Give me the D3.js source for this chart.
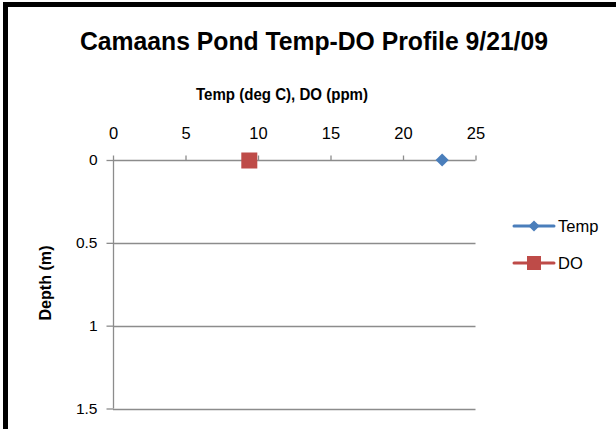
<!DOCTYPE html>
<html>
<head>
<meta charset="utf-8">
<style>
  body { margin: 0; background: #fff; }
  svg { display: block; }
</style>
</head>
<body>
<script src="https://cdn.jsdelivr.net/npm/d3@7"></script>
<script>
// data
var seriesNames = ["Temp", "DO"];
var depths = [0];
var tempValues = [22.7];
var doValues = [9.4];
var xTicks = [0, 5, 10, 15, 20, 25];
var yTicks = [0, 0.5, 1, 1.5];
var colors = ["#4a7ebb", "#be4b48"];

var W = 616, H = 429;
var font = "'Liberation Sans', Arial, sans-serif";

var svg = d3.select("body").append("svg").attr("width", W).attr("height", H);

// frame (only top/left visible)
svg.append("rect").attr("x", 0).attr("y", 0).attr("width", W).attr("height", H).attr("fill", "#fff");
svg.append("rect").attr("x", 3).attr("y", 2).attr("width", W - 3).attr("height", 5).attr("fill", "#000");
svg.append("rect").attr("x", 3).attr("y", 2).attr("width", 5).attr("height", H).attr("fill", "#000");

var x = d3.scaleLinear().domain([0, 25]).range([113, 475.5]);
var y = d3.scaleLinear().domain([0, 1.5]).range([160, 408.5]);

// horizontal gridlines
svg.append("g").selectAll("line").data(yTicks.slice(1)).enter().append("line")
  .attr("x1", x(0)).attr("x2", x(25))
  .attr("y1", function(d){ return Math.round(y(d)) + 0.5; })
  .attr("y2", function(d){ return Math.round(y(d)) + 0.5; })
  .attr("stroke", "#8c8c8c").attr("stroke-width", 1.3);

// top x axis
var xAxis = svg.append("g").attr("transform", "translate(0," + (Math.round(y(0)) + 0.5) + ")")
  .call(d3.axisTop(x).tickValues(xTicks).tickSize(5).tickPadding(17).tickFormat(d3.format("d")));
xAxis.select(".domain").attr("stroke", "#8c8c8c").attr("stroke-width", 1.3).attr("d", "M" + x(0) + ",0H" + x(25));
xAxis.selectAll(".tick line").attr("stroke", "#8c8c8c").attr("stroke-width", 1.3);
xAxis.selectAll("text").attr("font-family", font).attr("font-size", 16.5).attr("fill", "#000");

// left y axis
var yAxis = svg.append("g").attr("transform", "translate(" + (Math.round(x(0)) + 0.5) + ",0)")
  .call(d3.axisLeft(y).tickValues(yTicks).tickSize(7).tickPadding(9).tickFormat(function(d){ return String(d); }));
yAxis.select(".domain").attr("stroke", "#8c8c8c").attr("stroke-width", 1.3).attr("d", "M0," + y(0) + "V" + y(1.5));
yAxis.selectAll(".tick line").attr("stroke", "#8c8c8c").attr("stroke-width", 1.3);
yAxis.selectAll("text").attr("font-family", font).attr("font-size", 15.5).attr("fill", "#000");

// titles
svg.append("text").attr("x", 314).attr("y", 50).attr("text-anchor", "middle")
  .attr("font-family", font).attr("font-weight", "bold").attr("font-size", 26)
  .attr("textLength", 468).attr("lengthAdjust", "spacingAndGlyphs")
  .text("Camaans Pond Temp-DO Profile 9/21/09");
svg.append("text").attr("x", 282).attr("y", 100).attr("text-anchor", "middle")
  .attr("font-family", font).attr("font-weight", "bold").attr("font-size", 16)
  .attr("textLength", 172).attr("lengthAdjust", "spacingAndGlyphs")
  .text("Temp (deg C), DO (ppm)");
svg.append("text").attr("transform", "translate(51,283) rotate(-90)").attr("text-anchor", "middle")
  .attr("font-family", font).attr("font-weight", "bold").attr("font-size", 16)
  .attr("textLength", 75).attr("lengthAdjust", "spacingAndGlyphs")
  .text("Depth (m)");

// markers
var diamond = d3.symbol().type(d3.symbolDiamond2).size(110);
svg.append("g").selectAll("path").data(depths).enter().append("path")
  .attr("d", diamond)
  .attr("transform", function(d, i){ return "translate(" + x(tempValues[i]) + "," + y(d) + ")"; })
  .attr("fill", colors[0]);
svg.append("g").selectAll("rect").data(depths).enter().append("rect")
  .attr("x", function(d, i){ return x(doValues[i]) - 8; })
  .attr("y", function(d){ return y(d) - 7.5; })
  .attr("width", 16).attr("height", 16)
  .attr("fill", colors[1]);

// legend
var leg = svg.append("g").selectAll("g").data(seriesNames).enter().append("g")
  .attr("transform", function(d, i){ return "translate(514," + (226 + i * 37) + ")"; });
leg.append("line").attr("x1", 0).attr("x2", 40).attr("y1", 0).attr("y2", 0)
  .attr("stroke", function(d, i){ return colors[i]; }).attr("stroke-width", 3).attr("stroke-linecap", "round");
leg.each(function(d, i){
  var g = d3.select(this);
  if (i === 0) {
    g.append("path").attr("d", d3.symbol().type(d3.symbolDiamond2).size(80)).attr("transform", "translate(20,0)").attr("fill", colors[0]);
  } else {
    g.append("rect").attr("x", 13).attr("y", -7).attr("width", 14).attr("height", 14).attr("fill", colors[1]);
  }
});
leg.append("text").attr("x", 44).attr("y", 6)
  .attr("font-family", font).attr("font-size", 16.5).attr("fill", "#000")
  .text(function(d){ return d; });
</script>
</body>
</html>
